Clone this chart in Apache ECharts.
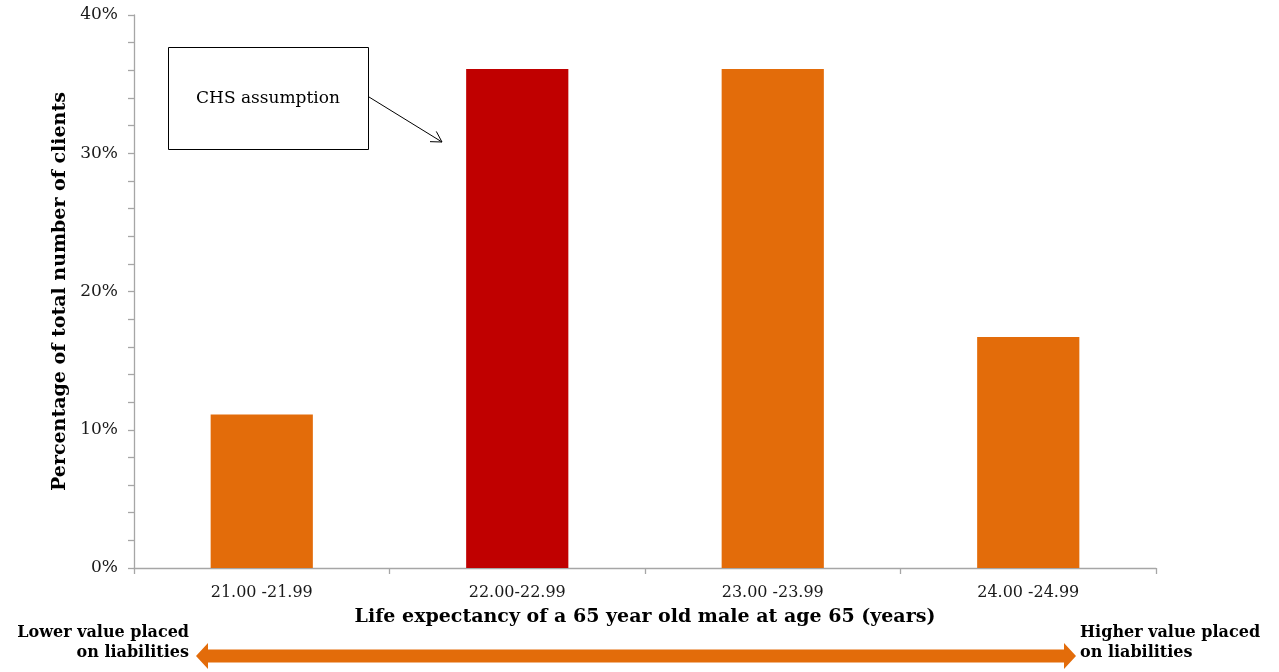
<!DOCTYPE html>
<html>
<head>
<meta charset="utf-8">
<script src="https://cdn.jsdelivr.net/npm/echarts@6/dist/echarts.min.js"></script>
<style>
  html, body { margin: 0; padding: 0; background: #fff; }
  #chart { width: 1279px; height: 672px; }
</style>
</head>
<body>
<div id="chart"></div>
<script>
// Share of clients by life-expectancy band
const categories = ['21.00 -21.99', '22.00-22.99', '23.00 -23.99', '24.00 -24.99'];
const shares = [0.111, 0.361, 0.361, 0.167];
const yTicks = [0, 0.1, 0.2, 0.3, 0.4];
const highlightIndex = 1; // band holding the CHS assumption

const ORANGE = '#E36C0A';
const RED = '#C00000';
const AXIS = '#A6A6A6';
const FONT = '"DejaVu Serif", "Liberation Serif", serif';

const chart = echarts.init(document.getElementById('chart'), null, { renderer: 'canvas' });

// open arrowhead drawn as two short strokes at the end of a line
function arrowLine(x1, y1, x2, y2, head) {
  const a = Math.atan2(y2 - y1, x2 - x1);
  const s = Math.PI / 6;
  return [
    { type: 'line', shape: { x1, y1, x2, y2 }, style: { stroke: '#000', lineWidth: 1 } },
    { type: 'polyline', shape: { points: [
        [x2 - head * Math.cos(a - s), y2 - head * Math.sin(a - s)],
        [x2, y2],
        [x2 - head * Math.cos(a + s), y2 - head * Math.sin(a + s)]
      ] }, style: { stroke: '#000', lineWidth: 1, fill: null } }
  ];
}

// double-headed band arrow below the axis
function doubleArrow(xl, xr, cy, shaft, headH, headL) {
  const t = cy - shaft / 2, b = cy + shaft / 2;
  return {
    type: 'polygon',
    shape: { points: [
      [xl, cy], [xl + headL, cy - headH / 2], [xl + headL, t],
      [xr - headL, t], [xr - headL, cy - headH / 2], [xr, cy],
      [xr - headL, cy + headH / 2], [xr - headL, b],
      [xl + headL, b], [xl + headL, cy + headH / 2]
    ] },
    style: { fill: ORANGE }
  };
}

const option = {
  backgroundColor: '#fff',
  animation: false,
  grid: { left: 134, right: 123, top: 15, bottom: 104, containLabel: false },
  xAxis: {
    type: 'category',
    data: categories,
    boundaryGap: true,
    axisLine: { lineStyle: { color: AXIS, width: 1.3 } },
    axisTick: { show: true, length: 6, alignWithLabel: false, lineStyle: { color: AXIS, width: 1.3 } },
    axisLabel: { color: '#1a1a1a', fontFamily: FONT, fontSize: 16, margin: 17 },
    name: 'Life expectancy of a 65 year old male at age 65 (years)',
    nameLocation: 'middle',
    nameGap: 40,
    nameTextStyle: { color: '#000', fontFamily: FONT, fontSize: 19, fontWeight: 'bold' }
  },
  yAxis: {
    type: 'value',
    min: yTicks[0],
    max: yTicks[yTicks.length - 1],
    interval: yTicks[1] - yTicks[0],
    axisLine: { show: true, lineStyle: { color: AXIS, width: 1.3 } },
    axisTick: { show: true, length: 6, lineStyle: { color: AXIS, width: 1.3 } },
    minorTick: { show: true, splitNumber: 5, length: 6, lineStyle: { color: AXIS, width: 1.3 } },
    splitLine: { show: false },
    axisLabel: {
      color: '#1a1a1a', fontFamily: FONT, fontSize: 17, margin: 16,
      formatter: v => Math.round(v * 100) + '%'
    },
    name: 'Percentage of total number of clients',
    nameLocation: 'middle',
    nameGap: 62,
    nameTextStyle: { color: '#000', fontFamily: FONT, fontSize: 19, fontWeight: 'bold' }
  },
  series: [{
    type: 'bar',
    barWidth: '40%',
    data: shares.map((v, i) => ({
      value: v,
      itemStyle: { color: i === highlightIndex ? RED : ORANGE }
    }))
  }],
  graphic: [
    {
      type: 'rect',
      shape: { x: 168.5, y: 47.5, width: 200, height: 102 },
      style: { fill: '#fff', stroke: '#000', lineWidth: 1 }
    },
    {
      type: 'text',
      x: 268, y: 99,
      style: {
        text: 'CHS assumption', fill: '#000', font: '17px ' + FONT,
        align: 'center', verticalAlign: 'middle'
      }
    },
    ...arrowLine(369, 97, 442, 142, 12),
    doubleArrow(196, 1076, 656, 13, 26, 12),
    {
      type: 'text',
      x: 189, y: 643,
      style: {
        text: 'Lower value placed\non liabilities', fill: '#000',
        font: 'bold 16px ' + FONT, align: 'right', verticalAlign: 'middle', lineHeight: 20
      }
    },
    {
      type: 'text',
      x: 1080, y: 643,
      style: {
        text: 'Higher value placed\non liabilities', fill: '#000',
        font: 'bold 16px ' + FONT, align: 'left', verticalAlign: 'middle', lineHeight: 20
      }
    }
  ]
};

chart.setOption(option);
</script>
</body>
</html>
